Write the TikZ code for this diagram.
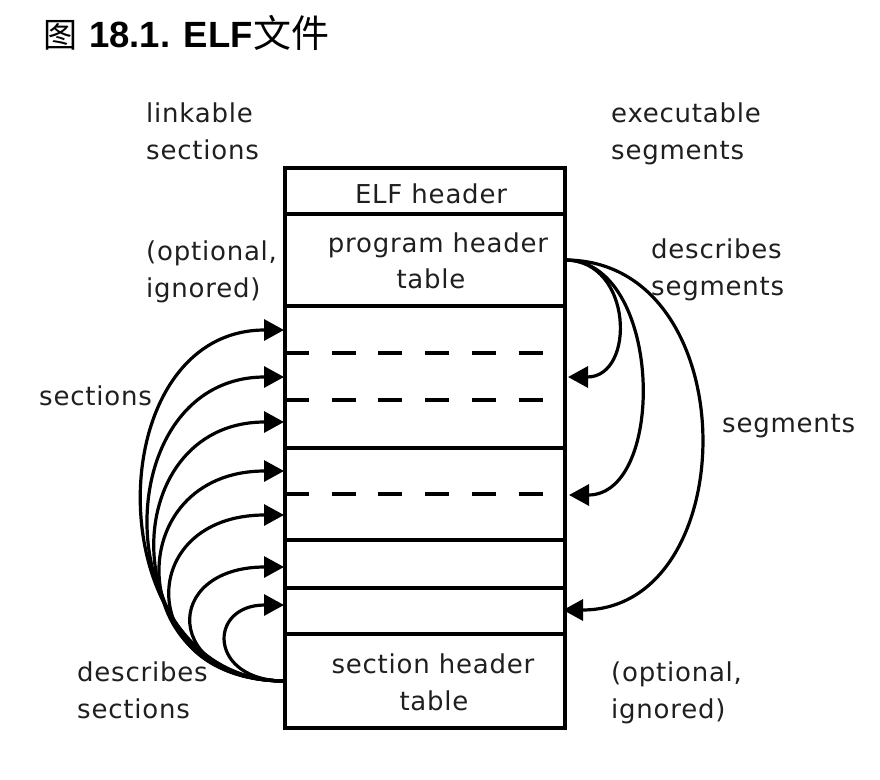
\documentclass[tikz,border=0pt]{standalone}
\usepackage{fontspec}
\setmainfont{DejaVu Sans}[LetterSpace=3]
\newfontfamily\cjk{Noto Sans CJK SC}
\newfontfamily\titlesans{Liberation Sans}
\usetikzlibrary{arrows.meta}
\begin{document}
\begin{tikzpicture}[x=1pt,y=-1pt,
  row/.style={draw, line width=3.3pt, minimum width=280pt, inner sep=0pt, outer sep=0pt, anchor=north west},
  lbl/.style={inner sep=0pt, anchor=base west, text=black!88, font=\fontsize{26}{37}\selectfont},
  ctr/.style={inner sep=0pt, anchor=base, text=black!88, font=\fontsize{26}{37}\selectfont},
  dashrule/.style={line width=3.3pt, dash pattern=on 24pt off 22.7pt},
  link/.style={line width=3.2pt, -{Triangle[length=20pt,width=21pt]}},
]
\useasboundingbox (0,0) rectangle (880,779);

% title
\node[anchor=base west, inner sep=0pt] (title) at (43,47)
  {\fontsize{34}{40}\cjk 图\hspace{12pt}\fontsize{36.5}{40}\titlesans\bfseries 18.1. ELF\hspace{1pt}\fontsize{38}{40}\cjk\mdseries 文件};

% file rows
\node[row, minimum height=46pt] (elf)  at (285,168) {};
\node[row, minimum height=92pt] (ph)   at (285,214) {};
\node[row, minimum height=142pt] (secA) at (285,306) {};
\node[row, minimum height=92pt] (secB) at (285,448) {};
\node[row, minimum height=48pt] (secC) at (285,540) {};
\node[row, minimum height=46pt] (secD) at (285,588) {};
\node[row, minimum height=94pt] (sh)   at (285,634) {};

% dashed separators
\coordinate (d1a) at (285,353); \coordinate (d1b) at (542.5,353);
\coordinate (d2a) at (285,400); \coordinate (d2b) at (542.5,400);
\coordinate (d3a) at (285,494); \coordinate (d3b) at (542.5,494);
\draw[dashrule] (d1a) -- (d1b);
\draw[dashrule] (d2a) -- (d2b);
\draw[dashrule] (d3a) -- (d3b);

% texts in box
\node[ctr] (elft) at (431,203) {ELF header};
\node[ctr] (pht1) at (438,252) {program header};
\node[ctr] (pht2) at (431,288) {table};
\node[ctr] (sht1) at (433,673) {section header};
\node[ctr] (sht2) at (434,710) {table};

% side labels
\node[lbl] (lk1) at (146,122) {linkable};
\node[lbl] (lk2) at (146,159) {sections};
\node[lbl] (ex1) at (611,122) {executable};
\node[lbl] (ex2) at (611,159) {segments};
\node[lbl] (op1) at (146,260) {(optional,};
\node[lbl] (op2) at (146,297) {ignored)};
\node[lbl] (ds1) at (651,258) {describes};
\node[lbl] (ds2) at (651,295) {segments};
\node[lbl] (secl) at (39,405) {sections};
\node[lbl] (segl) at (722,432) {segments};
\node[lbl] (dc1) at (77,681) {describes};
\node[lbl] (dc2) at (77,718) {sections};
\node[lbl] (op3) at (611,681) {(optional,};
\node[lbl] (op4) at (611,718) {ignored)};

% left arrow targets
\coordinate (L1) at (284,330);
\coordinate (L2) at (284,377);
\coordinate (L3) at (284,422);
\coordinate (L4) at (284,471);
\coordinate (L5) at (284,515);
\coordinate (L6) at (284,567);
\coordinate (L7) at (284,605);
\draw[link] (sh.west) .. controls +(-189,0) and +(-189,0) .. (L1);
\draw[link] (sh.west) .. controls +(-180,0) and +(-180,0) .. (L2);
\draw[link] (sh.west) .. controls +(-171,0) and +(-171,0) .. (L3);
\draw[link] (sh.west) .. controls +(-164,0) and +(-164,0) .. (L4);
\draw[link] (sh.west) .. controls +(-151,0) and +(-151,0) .. (L5);
\draw[link] (sh.west) .. controls +(-123,0) and +(-123,0) .. (L6);
\draw[link] (sh.west) .. controls +(-77,0) and +(-77,0) .. (L7);

% right arrow targets
\coordinate (R1) at (568,377);
\coordinate (R2) at (569,495);
\coordinate (R3) at (563,610);
\draw[link] (ph.east) .. controls +(68,0) and +(68,0) .. (R1);
\draw[link] (ph.east) .. controls +(98,0) and +(98,0) .. (R2);
\draw[link] (ph.east) .. controls +(182,0) and +(182,0) .. (R3);
\end{tikzpicture}
\end{document}
